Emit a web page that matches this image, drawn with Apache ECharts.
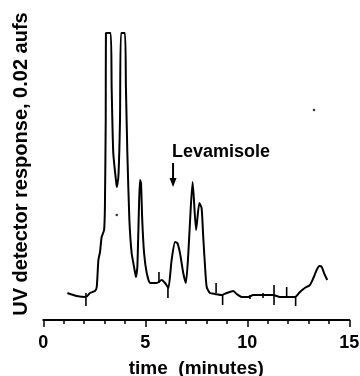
<!DOCTYPE html>
<html>
<head>
<meta charset="utf-8">
<script src="https://cdn.jsdelivr.net/npm/echarts@6/dist/echarts.min.js"></script>
<style>html,body{margin:0;padding:0;background:#fff}#c{width:360px;height:376px}</style>
</head>
<body>
<div id="c"></div>
<script>
// chromatogram trace: time (minutes) and detector response (arbitrary units, off-scale at 287)
var traceTimes = [1.18,1.64,2.09,2.29,2.53,2.62,2.70,2.78,2.86,2.98,3.02,3.06,3.07,3.30,3.35,3.43,3.56,3.60,3.68,3.76,3.81,4.00,4.05,4.12,4.22,4.33,4.45,4.54,4.61,4.69,4.74,4.79,4.85,4.94,5.07,5.23,5.39,5.56,5.80,5.97,6.13,6.29,6.46,6.57,6.70,6.86,6.99,7.11,7.23,7.32,7.49,7.65,7.76,7.84,7.93,8.01,8.17,8.42,8.75,8.99,9.31,9.48,9.73,10.05,10.29,11.27,11.60,12.34,12.58,12.82,13.07,13.24,13.40,13.53,13.65,13.76,13.92];
var traceValues = [27,24,23,27,29,33,60,68,83,90,113,200,287,287,233,167,140,133,143,200,287,287,233,167,100,67,53,43,53,113,140,137,100,67,47,37,37,37,40,37,32,60,78,77,67,47,37,67,113,138,90,117,112,83,53,33,27,26,25,27,29,26,23,23,25,25,23,23,28,32,35,42,50,54,53,47,40];
// integrator event marks: time, top and bottom of each mark
var markTimes = [2.09,5.67,6.11,8.47,8.79,10.13,10.77,11.31,11.93,12.37];
var markTops = [27,48,33,37,25,25,27,35,33,24];
var markBottoms = [14,37,22,27,15,21,22,15,22,14];
// small specks on the paper
var speckTimes = [3.60,13.27];
var speckValues = [105,210];
// annotation
var annotText = 'Levamisole';
var annotTime = 6.36;
var annotTextValue = 168;
var arrowTop = 157;
var arrowTip = 133;
// axis
var xTicks = [0,5,10,15];
var xName = 'time  (minutes)';
var yName = 'UV detector response, 0.02 aufs';

var font = 'Liberation Sans, Arial, Helvetica, sans-serif';
var trace = traceTimes.map(function(t,i){return [t, traceValues[i]];});
var marks = markTimes.map(function(t,i){return [t, markTops[i], markBottoms[i]];});
var specks = speckTimes.map(function(t,i){return [t, speckValues[i]];});

var chart = echarts.init(document.getElementById('c'), null, {renderer:'canvas'});
chart.setOption({
  animation:false,
  backgroundColor:'#fff',
  grid:{left:43.3,right:10.7,top:33,bottom:56,outerBoundsMode:'none'},
  xAxis:{
    type:'value',min:0,max:15,interval:5,
    axisLine:{lineStyle:{color:'#000',width:2}},
    axisTick:{show:true,length:7,lineStyle:{color:'#000',width:1.5}},
    minorTick:{show:true,splitNumber:5,length:4,lineStyle:{color:'#000',width:1.5}},
    splitLine:{show:false},
    axisLabel:{color:'#000',fontSize:18,fontWeight:'bold',fontFamily:font,margin:14,
      formatter:function(v){return xTicks.indexOf(v)>=0?String(v):'';}},
    name:xName,nameLocation:'middle',nameGap:39,
    nameTextStyle:{color:'#000',fontSize:19,fontWeight:'bold',fontFamily:font}
  },
  yAxis:{
    type:'value',min:0,max:287,
    axisLine:{show:false},axisTick:{show:false},axisLabel:{show:false},splitLine:{show:false},
    name:yName,nameLocation:'middle',nameGap:12,
    nameTextStyle:{color:'#000',fontSize:20,fontWeight:'bold',fontFamily:font,padding:[0,0,0,25]}
  },
  series:[
    {type:'line',data:trace,showSymbol:false,smooth:0.2,clip:false,
     lineStyle:{color:'#000',width:2}},
    {type:'custom',data:marks,clip:false,
     renderItem:function(params,api){
       var a=api.coord([api.value(0),api.value(1)]);
       var b=api.coord([api.value(0),api.value(2)]);
       return {type:'line',shape:{x1:a[0],y1:a[1],x2:b[0],y2:b[1]},style:{stroke:'#000',lineWidth:1.6}};
     }},
    {type:'scatter',data:specks,symbol:'circle',symbolSize:2.5,itemStyle:{color:'#000'}},
    {type:'custom',data:[[annotTime,annotTextValue,arrowTop,arrowTip]],clip:false,
     renderItem:function(params,api){
       var t=api.coord([api.value(0),api.value(1)]);
       var top=api.coord([api.value(0),api.value(2)]);
       var tip=api.coord([api.value(0),api.value(3)]);
       return {type:'group',children:[
         {type:'text',style:{text:annotText,x:t[0]-1,y:t[1],verticalAlign:'middle',align:'left',
           font:'bold 18px '+font,fill:'#000'}},
         {type:'line',shape:{x1:top[0],y1:top[1],x2:top[0],y2:tip[1]-7},style:{stroke:'#000',lineWidth:2}},
         {type:'polygon',shape:{points:[[tip[0]-3.5,tip[1]-9],[tip[0]+3.5,tip[1]-9],[tip[0],tip[1]]]},style:{fill:'#000'}}
       ]};
     }}
  ]
});
</script>
</body>
</html>
